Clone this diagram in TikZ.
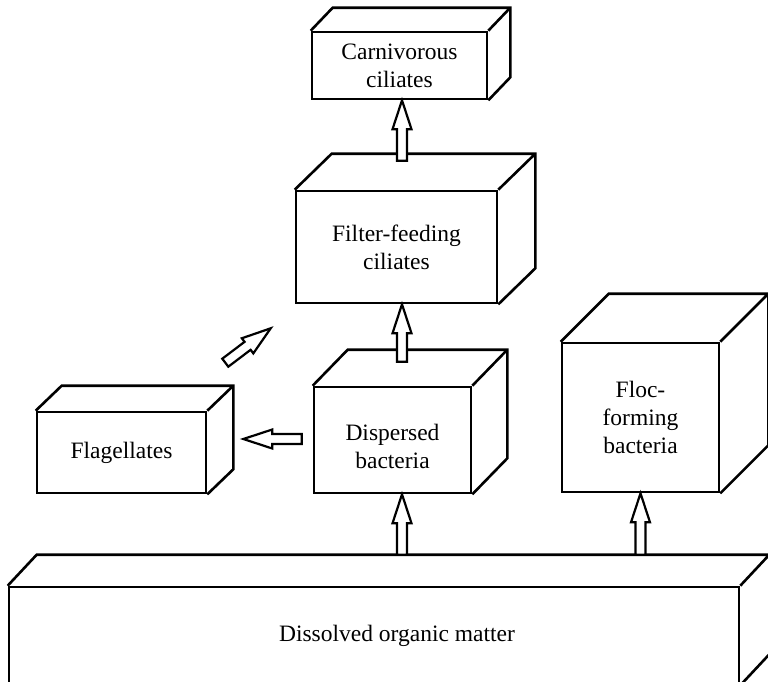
\documentclass[tikz,border=0pt]{standalone}
\usepackage{fontspec}
\setmainfont{Liberation Serif}
\usetikzlibrary{calc}
\begin{document}
\begin{tikzpicture}[x=1pt,y=-1pt,
  face/.style={draw, line width=2.6pt, fill=white, inner sep=0pt, align=center,
    font=\fontsize{23.5pt}{28pt}\selectfont},
  edge/.style={line width=2.6pt, line join=miter},
  blockarrow/.style={draw, fill=white, line width=2.2pt, line join=miter,
    to path={let \p1=(\tikztostart), \p2=(\tikztotarget),
      \n1={atan2(\y2-\y1,\x2-\x1)} in
      -- ($(\p1)+(\n1+90:5pt)$)
      -- ($(\p2)+(\n1+180:29pt)+(\n1+90:5pt)$)
      -- ($(\p2)+(\n1+180:29pt)+(\n1+90:9.5pt)$)
      -- (\p2)
      -- ($(\p2)+(\n1+180:29pt)+(\n1-90:9.5pt)$)
      -- ($(\p2)+(\n1+180:29pt)+(\n1-90:5pt)$)
      -- ($(\p1)+(\n1-90:5pt)$)
      -- cycle}}]
\useasboundingbox (0,0) rectangle (768,681);
\fill[white] (0,0) rectangle (768,681);
\clip (0,0) rectangle (768,681);

% boxes (front faces)
\node[face, minimum width=175pt, minimum height=67pt] (carn) at (399.5,65.5) {Carnivorous\\ciliates};
\node[face, minimum width=201pt, minimum height=112pt] (filt) at (396.5,247) {Filter-feeding\\ciliates};
\node[face, minimum width=169pt, minimum height=81pt] (flag) at (121.5,452.5) {Flagellates};
\node[face, minimum width=157pt, minimum height=106pt] (disp) at (392.5,440) {\rule{0pt}{30pt}Dispersed\\bacteria};
\node[face, minimum width=157pt, minimum height=149pt] (floc) at (640.5,417.5) {Floc-\\forming\\bacteria};
\node[face, minimum width=730pt, minimum height=97pt] (dom) at (374,635.5) {\hspace*{46pt}Dissolved organic matter};

% top and side faces
\foreach \n/\dx/\dy in {carn/22/23, filt/37/36, flag/26/25, disp/35/36, floc/48/48, dom/29/31} {
  \draw[edge] (\n.north west) -- ++(\dx,-\dy) -- ($(\n.north east)+(\dx,-\dy)$)
    -- ($(\n.south east)+(\dx,-\dy)$) -- (\n.south east)
    (\n.north east) -- ++(\dx,-\dy);
}

% arrow ends
\coordinate (col) at (402,0);
\coordinate (a1s) at ($(filt.north -| col)+(0,-29)$);
\coordinate (a1t) at (carn.south -| col);
\coordinate (a2s) at ($(disp.north -| col)+(0,-24)$);
\coordinate (a2t) at (filt.south -| col);
\coordinate (a3s) at ($(dom.north -| col)+(0,-31)$);
\coordinate (a3t) at (disp.south -| col);
\coordinate (a4s) at ($(dom.north -| floc.south)+(0,-31)$);
\coordinate (a4t) at (floc.south);
\coordinate (a5s) at ($(disp.west)+(-11,-1)$);
\coordinate (a5t) at ($(flag.east)+(36,-13.5)$);
\coordinate (a6s) at ($(flag.north east)+(18,-48)$);
\coordinate (a6t) at ($(filt.south west)+(-24,24)$);

% block arrows
\draw[blockarrow] (a1s) to (a1t);
\draw[blockarrow] (a2s) to (a2t);
\draw[blockarrow] (a3s) to (a3t);
\draw[blockarrow] (a4s) to (a4t);
\draw[blockarrow] (a5s) to (a5t);
\draw[blockarrow] (a6s) to (a6t);
\end{tikzpicture}
\end{document}
